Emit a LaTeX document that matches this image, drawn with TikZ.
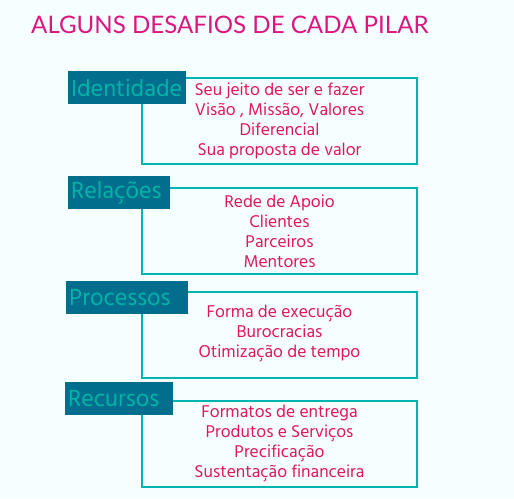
\documentclass[tikz,border=0pt]{standalone}
\usepackage{fontspec}
\usepackage{xcolor}
\setmainfont{Hind Madurai}
\newfontfamily\titlefont{Lato}
\usetikzlibrary{positioning}
\definecolor{paper}{HTML}{F5FFFF}
\definecolor{titlepink}{HTML}{DD1580}
\definecolor{itemred}{HTML}{E0175C}
\definecolor{tagblue}{HTML}{006E8C}
\definecolor{tagtext}{HTML}{00B3A8}
\definecolor{framecyan}{HTML}{00B5B0}
\tikzset{
  pillarbox/.style={rectangle, draw=framecyan, line width=2pt, minimum width=275pt, minimum height=86pt, align=center, text=itemred, font=\fontsize{17.5}{20}\selectfont, anchor=north west},
  pillartag/.style={rectangle, fill=tagblue, text=tagtext, minimum height=33pt, inner xsep=3pt, align=left, font=\fontsize{24}{26}\selectfont, anchor=north west},
}

\begin{document}
\begin{tikzpicture}[x=1pt, y=-1pt]
\useasboundingbox (0,0) rectangle (514,498);
\fill[paper] (0,0) rectangle (514,498);
\node[anchor=west, text=titlepink, font=\titlefont\fontsize{24.1}{26}\selectfont, inner sep=0pt] (title) at (31,25) {ALGUNS DESAFIOS DE CADA PILAR};

% caixas
\node[pillarbox] (idbox) at (141,77) {Seu jeito de ser e fazer\\Visão , Missão, Valores\\Diferencial\\Sua proposta de valor};
\node[pillarbox] (relbox) at (141,187) {Rede de Apoio\\Clientes\\Parceiros\\Mentores};
\node[pillarbox, text depth=8pt] (procbox) at (141,291) {Forma de execução\\Burocracias\\Otimização de tempo};
\node[pillarbox] (recbox) at (141,400) {Formatos de entrega\\Produtos e Serviços\\Precificação\\Sustentação financeira};

% rótulos
\node[pillartag, text width=112pt] (idtag) at (68,71) {Identidade};
\node[pillartag, text width=96pt] (reltag) at (68,176) {Relações};
\node[pillartag, text width=116pt] (proctag) at (66,281) {Processos};
\node[pillartag, text width=102pt] (rectag) at (65,382) {Recursos};
\end{tikzpicture}
\end{document}
